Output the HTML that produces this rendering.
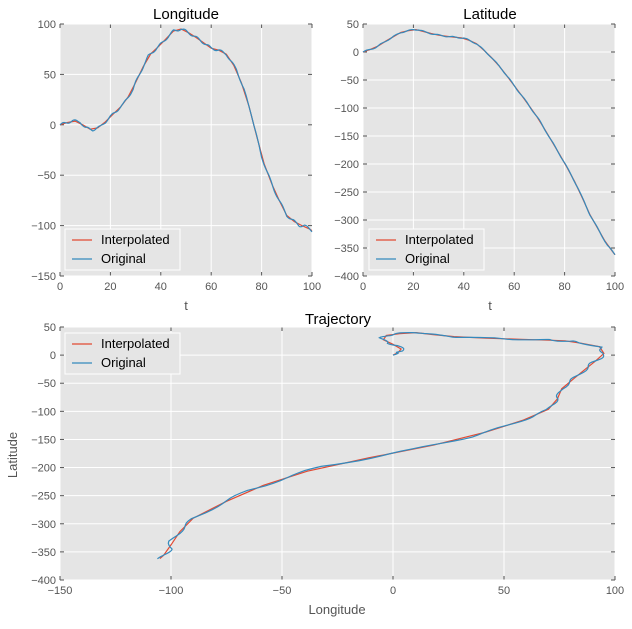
<!DOCTYPE html>
<html><head><meta charset="utf-8"><style>
body{margin:0;background:#fff;}
svg text{font-family:"Liberation Sans",sans-serif;}
.tk{fill:#555;font-size:11px;}
</style></head><body>
<svg id="s" width="632" height="624" xmlns="http://www.w3.org/2000/svg"></svg>
<script>
const S=document.getElementById('s');let h='';
const lonK=[[0,0],[5,4],[8,3],[10,-3],[13,-5],[16,-2],[20,8],[25,20],[29,35],[30,42],[35,68],[38,75],[42,85],[45,93],[48,95],[50,93],[55,85],[60,76],[63,74],[66,70],[70,55],[73,35],[76,10],[80,-32],[85,-65],[90,-90],[95,-100],[97,-100],[100,-105]];
const latK=[[0,0],[5,8],[10,22],[15,35],[20,40],[22,40],[25,35],[30,30],[35,27],[40,25],[45,15],[50,-5],[55,-30],[60,-60],[65,-90],[70,-122],[75,-160],[80,-198],[85,-240],[90,-290],[95,-330],[97,-345],[100,-362]];
function itp(K,t){for(let i=1;i<K.length;i++){if(t<=K[i][0]){const a=K[i-1],b=K[i];return a[1]+(b[1]-a[1])*(t-a[0])/(b[0]-a[0]);}}return K[K.length-1][1];}
const T=[];for(let t=0;t<=100;t+=0.5)T.push(t);
const lonO=T.map(t=>itp(lonK,t)+1.2*Math.sin(t*1.3)),latO=T.map(t=>itp(latK,t)+1.0*Math.sin(t*1.1));
const Ti=[];for(let t=0;t<=100;t+=3)Ti.push(t);Ti.push(100);
const lonI=Ti.map(t=>itp(lonK,t)),latI=Ti.map(t=>itp(latK,t));
function ax(x0,x1,y0,y1,xv0,xv1,yv0,yv1,xt,yt){
 h+=`<rect x="${x0}" y="${y0}" width="${x1-x0}" height="${y1-y0}" fill="#e5e5e5"/>`;
 const X=v=>x0+(v-xv0)/(xv1-xv0)*(x1-x0),Y=v=>y0+(v-yv0)/(yv1-yv0)*(y1-y0);
 xt.forEach(v=>{const x=X(v);h+=`<line x1="${x}" x2="${x}" y1="${y0}" y2="${y1}" stroke="#fff"/><line x1="${x}" x2="${x}" y1="${y0}" y2="${y0+4}" stroke="#555"/><line x1="${x}" x2="${x}" y1="${y1}" y2="${y1-4}" stroke="#555"/><text class="tk" x="${x}" y="${y1+14}" text-anchor="middle">${v<0?'\u2212'+(-v):v}</text>`;});
 yt.forEach(v=>{const y=Y(v);h+=`<line x1="${x0}" x2="${x1}" y1="${y}" y2="${y}" stroke="#fff"/><line x1="${x0}" x2="${x0+4}" y1="${y}" y2="${y}" stroke="#555"/><line x1="${x1}" x2="${x1-4}" y1="${y}" y2="${y}" stroke="#555"/><text class="tk" x="${x0-4}" y="${y+4}" text-anchor="end">${v<0?'\u2212'+(-v):v}</text>`;});
 return [X,Y];
}
function line(X,Y,xs,ys,c){h+=`<polyline fill="none" stroke="${c}" stroke-width="1.2" points="${xs.map((x,i)=>X(x).toFixed(1)+','+Y(ys[i]).toFixed(1)).join(' ')}"/>`;}
function leg(x,y,a,b){h+=`<rect x="${x}" y="${y}" width="115" height="41" fill="#e5e5e5" stroke="#fff"/><line x1="${x+7}" x2="${x+27}" y1="${y+11}" y2="${y+11}" stroke="${a}" stroke-width="1.2"/><text x="${x+36}" y="${y+15}" font-size="13">Interpolated</text><line x1="${x+7}" x2="${x+27}" y1="${y+30}" y2="${y+30}" stroke="${b}" stroke-width="1.2"/><text x="${x+36}" y="${y+34}" font-size="13">Original</text>`;}
const R='#e24a33',B='#348abd';
let [X,Y]=ax(60,312,24,276,0,100,100,-150,[0,20,40,60,80,100],[100,50,0,-50,-100,-150]);
line(X,Y,Ti,lonI,R);line(X,Y,T,lonO,B);leg(65,229,R,B);
h+=`<text x="186" y="19" font-size="15" text-anchor="middle">Longitude</text><text x="186" y="310" font-size="13" fill="#555" text-anchor="middle">t</text>`;
[X,Y]=ax(363,615,24,276,0,100,50,-400,[0,20,40,60,80,100],[50,0,-50,-100,-150,-200,-250,-300,-350,-400]);
line(X,Y,Ti,latI,R);line(X,Y,T,latO,B);leg(369,229,R,B);
h+=`<text x="490" y="19" font-size="15" text-anchor="middle">Latitude</text><text x="490" y="310" font-size="13" fill="#555" text-anchor="middle">t</text>`;
[X,Y]=ax(60,615,327,580,-150,100,50,-400,[-150,-100,-50,0,50,100],[50,0,-50,-100,-150,-200,-250,-300,-350,-400]);
line(X,Y,lonI,latI,R);line(X,Y,lonO,latO,B);leg(65,333,R,B);
h+=`<text x="338" y="324" font-size="15" text-anchor="middle">Trajectory</text><text x="337" y="614" font-size="13" fill="#555" text-anchor="middle">Longitude</text><text transform="translate(17,455) rotate(-90)" font-size="13" fill="#555" text-anchor="middle">Latitude</text>`;
S.innerHTML=h;
</script>
</body></html>
